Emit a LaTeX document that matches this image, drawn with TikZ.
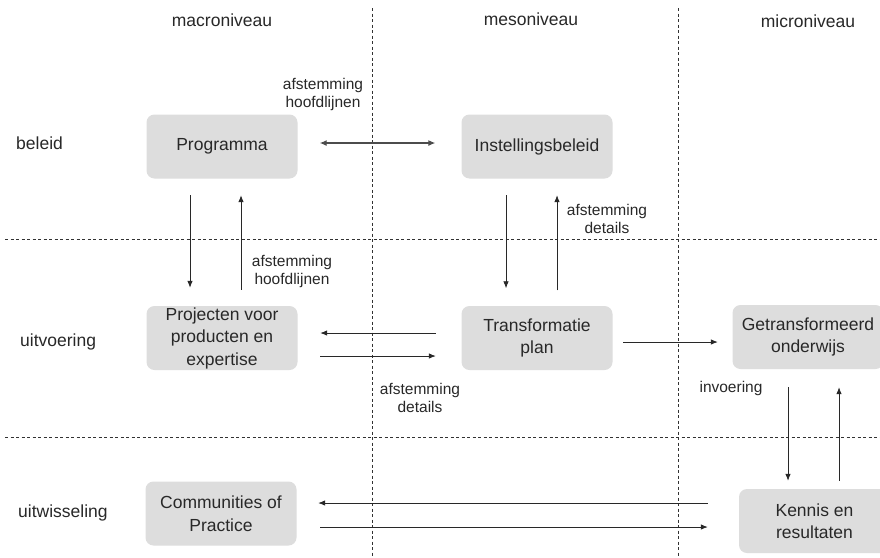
\documentclass[tikz,border=0pt]{standalone}
\usepackage{fontspec}
\setmainfont{Liberation Sans}
\usetikzlibrary{arrows.meta}
\definecolor{boxfill}{RGB}{221,221,221}
\definecolor{ink}{RGB}{40,40,40}
\definecolor{rule}{RGB}{50,50,50}
\begin{document}
\begin{tikzpicture}[x=1pt,y=-1pt,
  blok/.style={fill=boxfill, rounded corners=8pt, minimum width=151pt,
    minimum height=64pt, align=center, text=ink, inner sep=0pt,
    font=\fontsize{17.5}{22.5}\selectfont},
  lbl/.style={text=ink, inner sep=0pt, font=\fontsize{17.5}{21}\selectfont},
  note/.style={text=ink, inner sep=0pt, align=center,
    font=\fontsize{15.5}{18}\selectfont},
  grid/.style={rule, line width=0.7pt, dash pattern=on 3pt off 2.5pt},
  pijl/.style={ink, line width=0.8pt, -{Latex[length=7pt,width=5.5pt]}},
  dubbel/.style={black!70, line width=1.2pt,
    {Latex[length=7pt,width=6pt]}-{Latex[length=7pt,width=6pt]}},
]
\clip (0,0) rectangle (880,557);
\fill[white] (0,0) rectangle (880,557);

% level separators
\draw[grid] (372,8) -- (372,557);
\draw[grid] (678,8) -- (678,557);
\draw[grid] (5,239) -- (880,239);
\draw[grid] (5,437) -- (880,437);

% column and row headings
\node[lbl] (hmacro) at (222,20) {macroniveau};
\node[lbl] (hmeso)  at (531,19) {mesoniveau};
\node[lbl] (hmicro) at (808,21) {microniveau};
\node[lbl, anchor=west] (rbeleid) at (16,143) {beleid};
\node[lbl, anchor=west] (ruitv)   at (20,342) {uitvoering};
\node[lbl, anchor=west] (ruitw)   at (18,513) {uitwisseling};

% boxes
\node[blok] (prog)  at (222,146.5) {Programma};
\node[blok] (inst)  at (537,146.5) {Instellingsbeleid};
\node[blok] (proj)  at (222,338)   {Projecten voor\\producten en\\expertise};
\node[blok] (trans) at (537,338)   {Transformatie\\plan};
\node[blok] (getr)  at (808,337)   {Getransformeerd\\onderwijs};
\node[blok] (cop)   at (221,513.5) {Communities of\\Practice};
\node[blok] (kenn)  at (814.5,521) {Kennis en\\resultaten};

% beleid level
\draw[dubbel, shorten <=22pt, shorten >=26pt]
  ([yshift=3.5pt]prog.east) -- ([yshift=3.5pt]inst.west);
\node[note] (l1) at (323,94) {afstemming\\hoofdlijnen};

% macro: programma <-> projecten
\draw[pijl, shorten <=16.5pt, shorten >=18pt]
  ([xshift=-32pt]prog.south) -- ([xshift=-32pt]proj.north);
\draw[pijl, shorten <=16pt, shorten >=16.5pt]
  ([xshift=19pt]proj.north) -- ([xshift=19pt]prog.south);
\node[note] (l2) at (292,271) {afstemming\\hoofdlijnen};

% meso: instellingsbeleid <-> transformatieplan
\draw[pijl, shorten <=16.5pt, shorten >=17.5pt]
  ([xshift=-31pt]inst.south) -- ([xshift=-31pt]trans.north);
\draw[pijl, shorten <=15.5pt, shorten >=16.5pt]
  ([xshift=20pt]trans.north) -- ([xshift=20pt]inst.south);
\node[note] (l3) at (607,219) {afstemming\\details};

% uitvoering level
\draw[pijl, shorten <=25.5pt, shorten >=22.5pt]
  ([yshift=5pt]trans.west) -- ([yshift=5pt]proj.east);
\draw[pijl, shorten <=22.5pt, shorten >=25.5pt]
  ([yshift=-18pt]proj.east) -- ([yshift=-18pt]trans.west);
\node[note] (l4) at (420,397.5) {afstemming\\details};
\draw[pijl, shorten <=10.5pt, shorten >=14.5pt]
  ([yshift=-4pt]trans.east) -- ([yshift=-5pt]getr.west);

% micro: onderwijs <-> kennis
\node[note] (l5) at (731,388) {invoering};
\draw[pijl, shorten <=18pt, shorten >=8pt]
  ([xshift=-20pt]getr.south) -- ([xshift=-26.5pt]kenn.north);
\draw[pijl, shorten <=8pt, shorten >=18pt]
  ([xshift=24.5pt]kenn.north) -- ([xshift=31pt]getr.south);

% uitwisseling level
\draw[pijl, shorten <=31pt, shorten >=21.5pt]
  ([yshift=18pt]kenn.west) -- ([yshift=10.5pt]cop.east);
\draw[pijl, shorten <=23.5pt, shorten >=31pt]
  ([yshift=-13.5pt]cop.east) -- ([yshift=-6pt]kenn.west);
\end{tikzpicture}
\end{document}
